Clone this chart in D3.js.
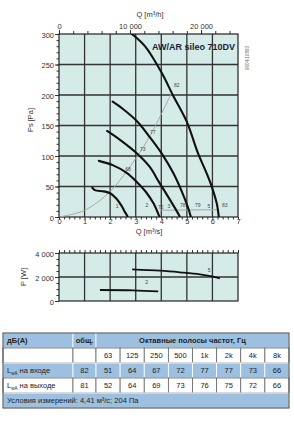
<!DOCTYPE html>
<html>
<head>
<meta charset="utf-8">
<script src="https://cdn.jsdelivr.net/npm/d3@7"></script>
<style>
  body { margin: 0; background: #fff; }
  svg { display: block; font-family: "Liberation Sans", Arial, sans-serif; }
</style>
</head>
<body>
<div id="chart"></div>
<script>
// fan curves, Q [m3/s] / Ps [Pa]
const curveSpeed5 = [[2.85, 300], [3.36, 280], [4.02, 236], [4.45, 200], [5.0, 156], [5.43, 105], [5.78, 71], [5.98, 49], [6.17, 22], [6.25, 0]];
const curveSpeed4 = [[2.1, 189], [2.5, 177], [3.05, 157], [3.55, 131], [4.02, 104], [4.47, 72], [4.8, 42], [5.05, 15], [5.15, 1]];
const curveSpeed3 = [[1.88, 141], [2.4, 126], [3.05, 104], [3.55, 82], [3.9, 58], [4.3, 31], [4.6, 10], [4.72, 1]];
const curveSpeed2 = [[1.56, 92], [2.1, 85], [2.66, 72], [3.05, 57], [3.4, 41], [3.7, 22], [3.92, 1]];
const curveSpeed1 = [[1.3, 48], [1.4, 44], [1.75, 42], [2.0, 39], [2.25, 30], [2.45, 18], [2.58, 8], [2.68, 1]];
const systemCurve = [[0, 0], [1, 11], [2, 42], [3, 96], [3.6, 136], [4.41, 204]];
const baseLine = [[3.95, 11], [6.25, 12]];

// sound level labels on the system curve, and labels at curve ends
const soundLabels = [["82", 4.61, 215], ["77", 3.67, 139], ["73", 3.28, 110], ["68", 2.7, 77]];
const endLabels = [["1", 2.27, 17], ["2", 3.44, 18], ["72", 3.98, 16], ["3", 4.3, 17], ["78", 4.84, 18], ["79", 5.43, 18], ["5", 5.86, 17], ["83", 6.48, 18]];

// power curves, Q [m3/s] / P [W]
const powerSpeed5 = [[2.86, 2641], [3.95, 2524], [4.73, 2391], [5.51, 2224], [6.03, 2024], [6.29, 1891]];
const powerSpeed2 = [[1.6, 916], [2.9, 891], [3.88, 808]];
const powerLabels = [["5", 5.87, 2500], ["2", 3.43, 1500]];

const qTicks = [0, 1, 2, 3, 4, 5, 6, 7];
const psTicks = [0, 50, 100, 150, 200, 250, 300];
const qhTicks = [0, 10000, 20000];
const pwTicks = [0, 2000, 4000];

// sound table
const octaveBands = ["63", "125", "250", "500", "1k", "2k", "4k", "8k"];
const inletTotal = "82";
const inletBands = ["51", "64", "67", "72", "77", "77", "73", "66"];
const outletTotal = "81";
const outletBands = ["52", "64", "69", "73", "76", "75", "72", "66"];

const width = 294, height = 432;
const plotBg = '#d5ebe8';
const gridColor = '#333';
const textColor = '#333';

const svg = d3.select('#chart').append('svg')
    .attr('width', width)
    .attr('height', height);

const x = d3.scaleLinear().domain([0, 7]).range([59, 238]);
const y = d3.scaleLinear().domain([0, 300]).range([217, 34]);
const yP = d3.scaleLinear().domain([0, 4000]).range([301, 253]);
const xh = d3.scaleLinear().domain([0, 7 * 3600]).range([59, 238]);

function fmtThousands(v) {
    return d3.format(',')(v).replace(/,/g, ' ');
}

// ---------- main chart ----------
svg.append('rect')
    .attr('x', x(0)).attr('y', y(300))
    .attr('width', x(7) - x(0)).attr('height', y(0) - y(300))
    .attr('fill', plotBg);

const grid = svg.append('g');
grid.selectAll('line.v').data(qTicks.slice(1, -1)).enter().append('line')
    .attr('x1', d => x(d)).attr('x2', d => x(d))
    .attr('y1', y(300)).attr('y2', y(0))
    .attr('stroke', gridColor).attr('stroke-width', 1.3);
grid.selectAll('line.h').data(psTicks.slice(1, -1)).enter().append('line')
    .attr('x1', x(0)).attr('x2', x(7))
    .attr('y1', d => y(d)).attr('y2', d => y(d))
    .attr('stroke', gridColor).attr('stroke-width', 1.3);

// left axis
svg.append('g')
    .attr('transform', `translate(${x(0)},0)`)
    .call(d3.axisLeft(y).tickValues(d3.range(0, 301, 10)).tickSize(2.5).tickFormat(''))
    .call(g => g.select('.domain').remove())
    .call(g => g.selectAll('line').attr('stroke', '#333'));
svg.append('g')
    .attr('transform', `translate(${x(0)},0)`)
    .call(d3.axisLeft(y).tickValues(psTicks).tickSize(4).tickPadding(1))
    .call(g => g.select('.domain').remove())
    .call(g => g.selectAll('line').attr('stroke', '#333'))
    .call(g => g.selectAll('text').attr('font-size', 7.5).attr('fill', textColor).attr('font-family', null).attr('dy', '0.45em'));

// bottom axis
svg.append('g')
    .attr('transform', `translate(0,${y(0)})`)
    .call(d3.axisBottom(x).tickValues(d3.range(0, 7.01, 0.2)).tickSize(2.5).tickFormat(''))
    .call(g => g.select('.domain').remove())
    .call(g => g.selectAll('line').attr('stroke', '#333'));
svg.append('g')
    .attr('transform', `translate(0,${y(0)})`)
    .call(d3.axisBottom(x).tickValues(qTicks).tickSize(0).tickPadding(1.5).tickFormat(d3.format('d')))
    .call(g => g.select('.domain').remove())
    .call(g => g.selectAll('text').attr('font-size', 7.5).attr('fill', textColor).attr('font-family', null));

// top axis m3/h
svg.append('g')
    .attr('transform', `translate(0,${y(300)})`)
    .call(d3.axisTop(xh).tickValues(d3.range(0, 25001, 2000)).tickSize(3).tickFormat(''))
    .call(g => g.select('.domain').remove())
    .call(g => g.selectAll('line').attr('stroke', '#333'));
svg.append('g')
    .attr('transform', `translate(0,${y(300)})`)
    .call(d3.axisTop(xh).tickValues(qhTicks).tickSize(4).tickPadding(1.5).tickFormat(fmtThousands))
    .call(g => g.select('.domain').remove())
    .call(g => g.selectAll('line').attr('stroke', '#333'))
    .call(g => g.selectAll('text').attr('font-size', 7.5).attr('fill', textColor).attr('font-family', null));

svg.append('rect')
    .attr('x', x(0)).attr('y', y(300))
    .attr('width', x(7) - x(0)).attr('height', y(0) - y(300))
    .attr('fill', 'none').attr('stroke', '#222').attr('stroke-width', 1.2);

// axis titles
svg.append('text').attr('x', 150).attr('y', 17).attr('text-anchor', 'middle')
    .attr('font-size', 7.5).attr('fill', textColor)
    .text('Q [m³/h]');
svg.append('text').attr('x', 149).attr('y', 234).attr('text-anchor', 'middle')
    .attr('font-size', 7.5).attr('fill', textColor)
    .text('Q [m³/s]');
svg.append('text').attr('transform', 'translate(33,120) rotate(-90)').attr('text-anchor', 'middle')
    .attr('font-size', 7.5).attr('fill', textColor)
    .text('Ps [Pa]');

svg.append('text').attr('x', 235).attr('y', 50).attr('text-anchor', 'end')
    .attr('font-size', 9).attr('font-weight', 'bold').attr('fill', '#1c1c3c')
    .text('AW/AR sileo 710DV');
svg.append('text').attr('transform', 'translate(249,58) rotate(-90)').attr('text-anchor', 'middle')
    .attr('font-size', 4.5).attr('fill', '#666')
    .text('9604/10893');

// curves
const line = d3.line().x(d => x(d[0])).y(d => y(d[1])).curve(d3.curveCatmullRom.alpha(0.5));

svg.append('clipPath').attr('id', 'plotclip').append('rect')
    .attr('x', x(0)).attr('y', y(300)).attr('width', x(7) - x(0)).attr('height', y(0) - y(300));

const curvesG = svg.append('g').attr('clip-path', 'url(#plotclip)');
curvesG.append('path').datum(systemCurve).attr('d', line)
    .attr('fill', 'none').attr('stroke', '#a8a8a8').attr('stroke-width', 1);
curvesG.append('path').datum(baseLine).attr('d', line)
    .attr('fill', 'none').attr('stroke', '#a8a8a8').attr('stroke-width', 1);
curvesG.selectAll('path.fan').data([curveSpeed5, curveSpeed4, curveSpeed3, curveSpeed2, curveSpeed1]).enter().append('path')
    .attr('class', 'fan')
    .attr('d', line)
    .attr('fill', 'none').attr('stroke', '#111').attr('stroke-width', 2.1).attr('stroke-linecap', 'round');

svg.selectAll('text.snd').data(soundLabels.concat(endLabels)).enter().append('text')
    .attr('x', d => x(d[1])).attr('y', d => y(d[2]))
    .attr('text-anchor', 'middle').attr('dominant-baseline', 'middle')
    .attr('font-size', 5).attr('fill', '#444')
    .text(d => d[0]);

// ---------- power chart ----------
svg.append('rect')
    .attr('x', x(0)).attr('y', yP(4000))
    .attr('width', x(7) - x(0)).attr('height', yP(0) - yP(4000))
    .attr('fill', plotBg);
svg.append('g').selectAll('line').data(qTicks.slice(1, -1)).enter().append('line')
    .attr('x1', d => x(d)).attr('x2', d => x(d))
    .attr('y1', yP(4000)).attr('y2', yP(0))
    .attr('stroke', gridColor).attr('stroke-width', 1.3);
svg.append('line')
    .attr('x1', x(0)).attr('x2', x(7)).attr('y1', yP(2000)).attr('y2', yP(2000))
    .attr('stroke', gridColor).attr('stroke-width', 1.3);

svg.append('g')
    .attr('transform', `translate(${x(0)},0)`)
    .call(d3.axisLeft(yP).tickValues(d3.range(0, 4001, 500)).tickSize(2.5).tickFormat(''))
    .call(g => g.select('.domain').remove())
    .call(g => g.selectAll('line').attr('stroke', '#333'));
svg.append('g')
    .attr('transform', `translate(${x(0)},0)`)
    .call(d3.axisLeft(yP).tickValues(pwTicks).tickSize(4).tickPadding(1).tickFormat(fmtThousands))
    .call(g => g.select('.domain').remove())
    .call(g => g.selectAll('line').attr('stroke', '#333'))
    .call(g => g.selectAll('text').attr('font-size', 7.5).attr('fill', textColor).attr('font-family', null).attr('dy', '0.4em'));
svg.append('g')
    .attr('transform', `translate(0,${yP(4000)})`)
    .call(d3.axisTop(x).tickValues(d3.range(0, 7.01, 0.2)).tickSize(3).tickFormat(''))
    .call(g => g.select('.domain').remove())
    .call(g => g.selectAll('line').attr('stroke', '#333'));

svg.append('rect')
    .attr('x', x(0)).attr('y', yP(4000))
    .attr('width', x(7) - x(0)).attr('height', yP(0) - yP(4000))
    .attr('fill', 'none').attr('stroke', '#222').attr('stroke-width', 1.2);

svg.append('text').attr('transform', 'translate(26,277) rotate(-90)').attr('text-anchor', 'middle')
    .attr('font-size', 7.5).attr('fill', textColor)
    .text('P [W]');

const pline = d3.line().x(d => x(d[0])).y(d => yP(d[1])).curve(d3.curveCatmullRom.alpha(0.5));
svg.selectAll('path.pw').data([powerSpeed5, powerSpeed2]).enter().append('path')
    .attr('class', 'pw')
    .attr('d', pline)
    .attr('fill', 'none').attr('stroke', '#111').attr('stroke-width', 1.8);
svg.selectAll('text.pwl').data(powerLabels).enter().append('text')
    .attr('x', d => x(d[1])).attr('y', d => yP(d[2]))
    .attr('text-anchor', 'middle').attr('dominant-baseline', 'middle')
    .attr('font-size', 5).attr('fill', '#444')
    .text(d => d[0]);

// ---------- table ----------
const blue = '#9dc0e0';
const tLeft = 3, tRight = 289, tTop = 333, rowH = 15;
const colEdges = [tLeft, 73, 96].concat(d3.range(1, 9).map(i => 96 + i * (tRight - 96) / 8));
const table = svg.append('g').attr('font-size', 7.5).attr('fill', '#222');

function cell(x0, x1, row, fill, label, opts = {}) {
    const yy = tTop + row * rowH;
    table.append('rect')
        .attr('x', x0).attr('y', yy).attr('width', x1 - x0).attr('height', rowH)
        .attr('fill', fill).attr('stroke', fill === blue ? '#fff' : '#666').attr('stroke-width', 0.8);
    if (label === undefined) return;
    const t = table.append('text')
        .attr('y', yy + rowH / 2 + 2.7)
        .attr('fill', '#222')
        .attr('font-weight', opts.bold ? 'bold' : null);
    if (opts.left) t.attr('x', x0 + 4);
    else t.attr('x', (x0 + x1) / 2).attr('text-anchor', 'middle');
    if (opts.lwa) {
        t.append('tspan').text('L');
        t.append('tspan').attr('font-size', 4.5).attr('dy', 1.5).text('wA');
        t.append('tspan').attr('dy', -1.5).text(' ' + label);
    } else {
        t.text(label);
    }
}

cell(colEdges[0], colEdges[1], 0, blue, 'дБ(A)', { bold: true, left: true });
cell(colEdges[1], colEdges[2], 0, blue, 'общ.', { bold: true });
cell(colEdges[2], tRight, 0, blue, 'Октавные полосы частот, Гц', { bold: true });

cell(colEdges[0], colEdges[1], 1, '#fff', '');
cell(colEdges[1], colEdges[2], 1, '#fff', '');
octaveBands.forEach((b, i) => cell(colEdges[i + 2], colEdges[i + 3], 1, '#fff', b));

cell(colEdges[0], colEdges[1], 2, blue, 'на входе', { left: true, lwa: true });
cell(colEdges[1], colEdges[2], 2, blue, inletTotal);
inletBands.forEach((b, i) => cell(colEdges[i + 2], colEdges[i + 3], 2, blue, b));

cell(colEdges[0], colEdges[1], 3, '#fff', 'на выходе', { left: true, lwa: true });
cell(colEdges[1], colEdges[2], 3, '#fff', outletTotal);
outletBands.forEach((b, i) => cell(colEdges[i + 2], colEdges[i + 3], 3, '#fff', b));

cell(tLeft, tRight, 4, blue, 'Условия измерений: 4,41 м³/с; 204 Па', { left: true });

table.append('rect')
    .attr('x', tLeft).attr('y', tTop).attr('width', tRight - tLeft).attr('height', rowH * 5)
    .attr('fill', 'none').attr('stroke', '#444').attr('stroke-width', 1);
</script>
</body>
</html>
